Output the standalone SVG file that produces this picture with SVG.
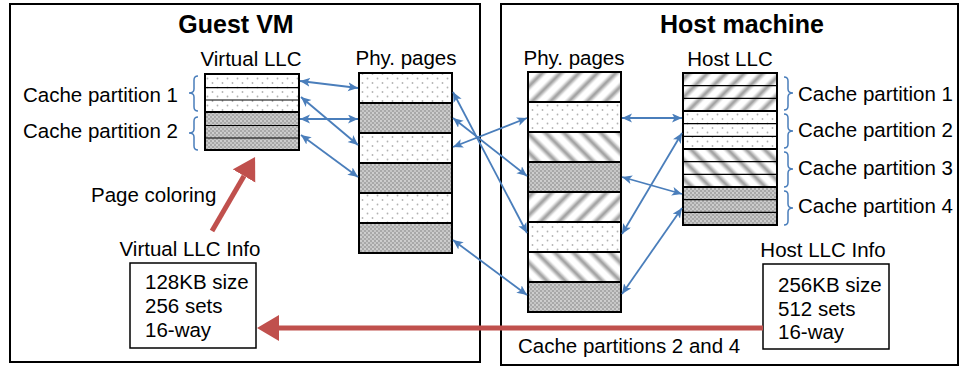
<svg xmlns="http://www.w3.org/2000/svg" width="962" height="367" viewBox="0 0 962 367">
<style>
text{font-family:"Liberation Sans",Arial,sans-serif;font-size:20.5px;fill:#000}
.title{font-weight:bold;font-size:25px}
.frame{fill:none;stroke:#000;stroke-width:2}
.cell{stroke:#000;stroke-width:2}
.thin{stroke:#000;stroke-width:1.2}
.conn{stroke:#4A7EBB;stroke-width:1.8;fill:none;marker-start:url(#ab);marker-end:url(#ab)}
.brace{fill:none;stroke:#4A7EBB;stroke-width:1.5}
.red{stroke:#C0504D;stroke-width:5;fill:none;marker-end:url(#ar)}
.info{fill:#fff;stroke:#000;stroke-width:1.5}
</style>
<defs>
<pattern id="wd" width="10" height="9" patternUnits="userSpaceOnUse">
<rect width="10" height="9" fill="#fff"/>
<circle cx="2.5" cy="2" r="0.9" fill="#b3b3b3"/>
<circle cx="7.5" cy="6.5" r="0.9" fill="#b3b3b3"/>
</pattern>
<pattern id="gd" width="4" height="4" patternUnits="userSpaceOnUse">
<rect width="4" height="4" fill="#a8a8a8"/>
<circle cx="1" cy="1" r="0.9" fill="#e0e0e0"/>
<circle cx="3" cy="3" r="0.9" fill="#d4d4d4"/>
</pattern>
<linearGradient id="sg" x1="0" y1="0" x2="1" y2="0">
<stop offset="0" stop-color="#fff"/>
<stop offset="0.5" stop-color="#999"/>
<stop offset="1" stop-color="#fff"/>
</linearGradient>
<pattern id="sf" width="13" height="13" patternUnits="userSpaceOnUse" patternTransform="rotate(45)">
<rect width="13" height="13" fill="#fff"/>
<rect x="2" width="8" height="13" fill="url(#sg)"/>
</pattern>
<pattern id="sb" width="13" height="13" patternUnits="userSpaceOnUse" patternTransform="rotate(-45)">
<rect width="13" height="13" fill="#fff"/>
<rect x="2" width="8" height="13" fill="url(#sg)"/>
</pattern>
<marker id="ab" markerWidth="12" markerHeight="10" refX="10" refY="4.5" orient="auto-start-reverse" markerUnits="userSpaceOnUse">
<path d="M0,0 L10,4.5 L0,9 L2.5,4.5 z" fill="#4A7EBB"/>
</marker>
<marker id="ar" markerWidth="24" markerHeight="28" refX="0" refY="13" orient="auto" markerUnits="userSpaceOnUse">
<path d="M0,0 L22,13 L0,26 z" fill="#C0504D"/>
</marker>
</defs>

<g id="guest-vm">
<rect class="frame" x="10" y="4" width="470" height="358"/>
<text class="title" x="236" y="33" text-anchor="middle">Guest VM</text>
</g>
<g id="host-machine">
<rect class="frame" x="501" y="4" width="457" height="361"/>
<text class="title" x="742" y="33" text-anchor="middle">Host machine</text>
</g>

<g id="virtual-llc">
<text x="251" y="66" text-anchor="middle">Virtual LLC</text>
<rect x="205" y="74" width="94" height="38" fill="url(#wd)"/>
<rect x="205" y="112" width="94" height="38" fill="url(#gd)"/>
<line class="thin" x1="205" y1="87.7" x2="299" y2="87.7"/>
<line class="thin" x1="205" y1="100" x2="299" y2="100"/>
<line class="thin" x1="205" y1="125.5" x2="299" y2="125.5"/>
<line class="thin" x1="205" y1="138" x2="299" y2="138"/>
<line class="cell" x1="205" y1="112" x2="299" y2="112"/>
<rect class="frame" x="205" y="74" width="94" height="76"/>
<path class="brace" d="M198,76 Q194,76 194,80 L194,89 Q194,93 189,93 Q194,93 194,97 L194,107 Q194,111 198,111"/>
<path class="brace" d="M198,117 Q194,117 194,121 L194,129 Q194,133 189,133 Q194,133 194,137 L194,146 Q194,150 198,150"/>
<text x="178" y="102" text-anchor="end">Cache partition 1</text>
<text x="178" y="138" text-anchor="end">Cache partition 2</text>
</g>

<g id="guest-phy-pages">
<text x="406" y="65" text-anchor="middle">Phy. pages</text>
<rect class="cell" x="359" y="73" width="93" height="30" fill="url(#wd)"/>
<rect class="cell" x="359" y="103" width="93" height="30" fill="url(#gd)"/>
<rect class="cell" x="359" y="133" width="93" height="30" fill="url(#wd)"/>
<rect class="cell" x="359" y="163" width="93" height="30" fill="url(#gd)"/>
<rect class="cell" x="359" y="193" width="93" height="30" fill="url(#wd)"/>
<rect class="cell" x="359" y="223" width="93" height="30" fill="url(#gd)"/>
</g>

<g id="host-phy-pages">
<text x="574" y="65" text-anchor="middle">Phy. pages</text>
<rect class="cell" x="528" y="72" width="93" height="30" fill="url(#sf)"/>
<rect class="cell" x="528" y="102" width="93" height="30" fill="url(#wd)"/>
<rect class="cell" x="528" y="132" width="93" height="30" fill="url(#sb)"/>
<rect class="cell" x="528" y="162" width="93" height="30" fill="url(#gd)"/>
<rect class="cell" x="528" y="192" width="93" height="30" fill="url(#sf)"/>
<rect class="cell" x="528" y="222" width="93" height="30" fill="url(#wd)"/>
<rect class="cell" x="528" y="252" width="93" height="30" fill="url(#sb)"/>
<rect class="cell" x="528" y="282" width="93" height="30" fill="url(#gd)"/>
</g>

<g id="host-llc">
<text x="730" y="66" text-anchor="middle">Host LLC</text>
<rect x="683" y="73" width="94" height="38" fill="url(#sf)"/>
<rect x="683" y="111" width="94" height="38" fill="url(#wd)"/>
<rect x="683" y="149" width="94" height="38" fill="url(#sb)"/>
<rect x="683" y="187" width="94" height="38" fill="url(#gd)"/>
<line class="thin" x1="683" y1="85.7" x2="777" y2="85.7"/>
<line class="thin" x1="683" y1="98.3" x2="777" y2="98.3"/>
<line class="thin" x1="683" y1="123.7" x2="777" y2="123.7"/>
<line class="thin" x1="683" y1="136.3" x2="777" y2="136.3"/>
<line class="thin" x1="683" y1="161.7" x2="777" y2="161.7"/>
<line class="thin" x1="683" y1="174.3" x2="777" y2="174.3"/>
<line class="thin" x1="683" y1="199.7" x2="777" y2="199.7"/>
<line class="thin" x1="683" y1="212.3" x2="777" y2="212.3"/>
<line class="cell" x1="683" y1="111" x2="777" y2="111"/>
<line class="cell" x1="683" y1="149" x2="777" y2="149"/>
<line class="cell" x1="683" y1="187" x2="777" y2="187"/>
<rect class="frame" x="683" y="73" width="94" height="152"/>
<path class="brace" d="M784,77 Q788,77 788,81 L788,89 Q788,93 793,93 Q788,93 788,97 L788,106 Q788,110 784,110"/>
<path class="brace" d="M784,114 Q788,114 788,118 L788,127 Q788,131 793,131 Q788,131 788,135 L788,144 Q788,148 784,148"/>
<path class="brace" d="M784,152 Q788,152 788,156 L788,165 Q788,169 793,169 Q788,169 788,173 L788,183 Q788,187 784,187"/>
<path class="brace" d="M784,191 Q788,191 788,195 L788,204 Q788,208 793,208 Q788,208 788,212 L788,221 Q788,225 784,225"/>
<text x="798" y="101">Cache partition 1</text>
<text x="798" y="137">Cache partition 2</text>
<text x="798" y="175">Cache partition 3</text>
<text x="798" y="213">Cache partition 4</text>
</g>

<g id="virtual-llc-info">
<text x="190" y="256" text-anchor="middle">Virtual LLC Info</text>
<rect class="info" x="130" y="263" width="126" height="85"/>
<text x="145" y="289">128KB size</text>
<text x="145" y="313">256 sets</text>
<text x="145" y="337">16-way</text>
</g>

<g id="host-llc-info">
<text x="823" y="257" text-anchor="middle">Host LLC Info</text>
<rect class="info" x="763" y="264" width="126" height="85"/>
<text x="778" y="292">256KB size</text>
<text x="778" y="316">512 sets</text>
<text x="778" y="339">16-way</text>
</g>

<g id="connectors">
<line class="conn" x1="300" y1="81" x2="358" y2="88"/>
<line class="conn" x1="301" y1="97" x2="358" y2="145"/>
<line class="conn" x1="300" y1="119" x2="358" y2="119"/>
<line class="conn" x1="301" y1="135" x2="358" y2="177"/>
<line class="conn" x1="453" y1="92" x2="527" y2="233"/>
<line class="conn" x1="453" y1="118" x2="527" y2="176"/>
<line class="conn" x1="453" y1="147" x2="527" y2="118"/>
<line class="conn" x1="453" y1="240" x2="527" y2="295"/>
<line class="conn" x1="622" y1="118" x2="682" y2="118"/>
<line class="conn" x1="622" y1="177" x2="682" y2="194"/>
<line class="conn" x1="622" y1="234" x2="682" y2="133"/>
<line class="conn" x1="622" y1="294" x2="682" y2="208"/>
<line class="red" x1="212" y1="231" x2="244" y2="176"/>
<line class="red" x1="763" y1="328" x2="279" y2="328"/>
<text x="91" y="202">Page coloring</text>
<text x="518" y="353">Cache partitions 2 and 4</text>
</g>
</svg>
